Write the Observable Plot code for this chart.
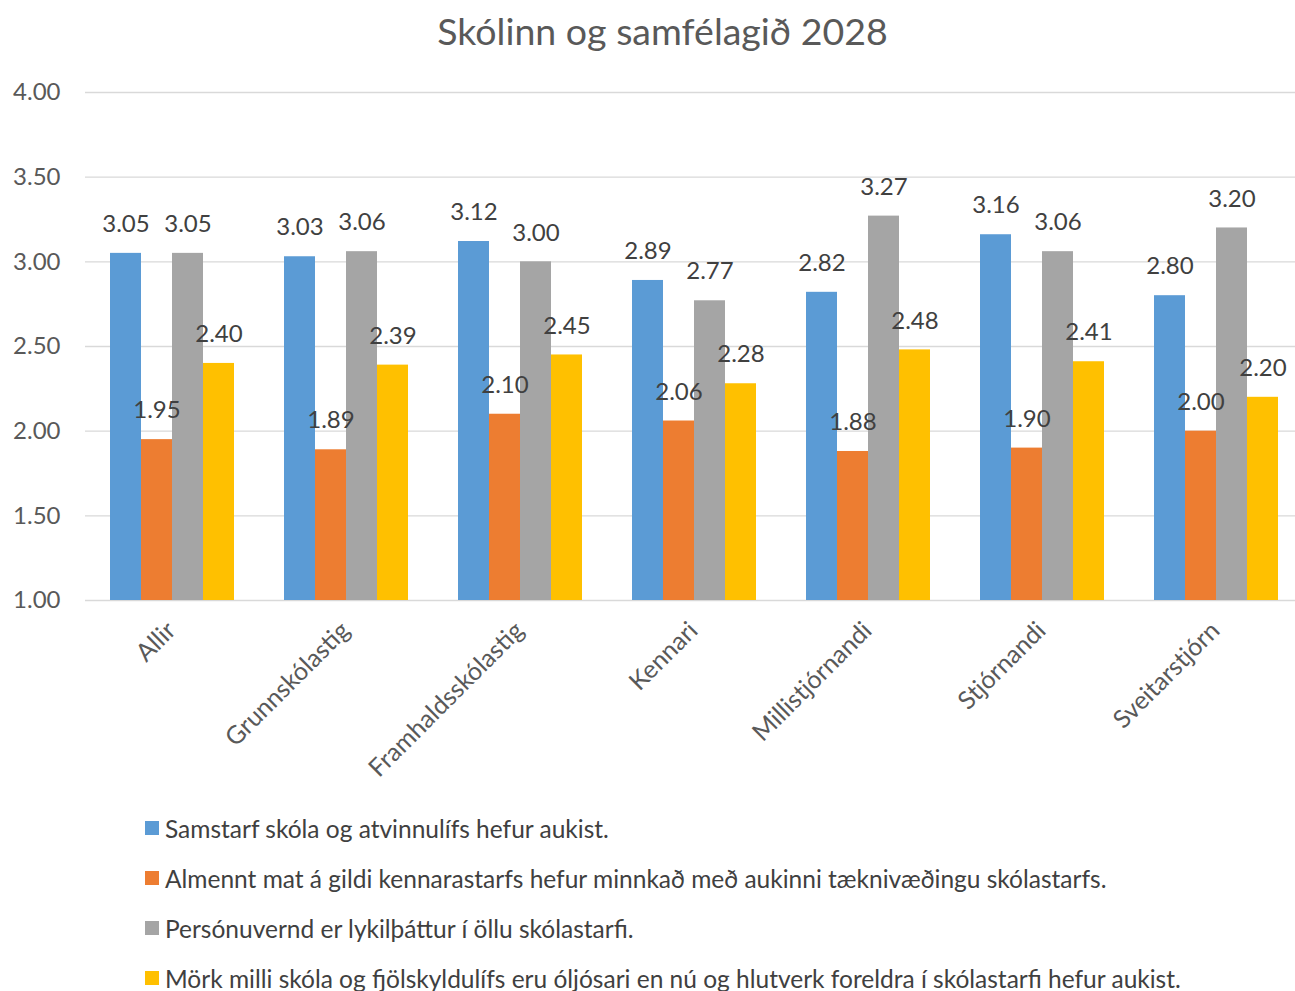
<!DOCTYPE html>
<html><head><meta charset="utf-8">
<script src="https://cdn.jsdelivr.net/npm/d3@7"></script>
<script src="https://cdn.jsdelivr.net/npm/@observablehq/plot@0.6"></script>
<style>
html,body{margin:0;background:#fff;font-family:Lato,"Open Sans",sans-serif;overflow:hidden;}
#title{width:1295px;height:62px;line-height:62px;text-align:center;font-size:37.5px;color:#595959;padding-left:30px;box-sizing:border-box;}
#chart svg{max-width:none !important;}
#legend{position:absolute;left:145px;top:803px;}
.row{height:50px;display:flex;align-items:center;font-size:24.5px;color:#404040;white-space:nowrap;}
.sw{width:14px;height:14px;margin-right:6px;}
</style></head><body>
<div id="title">Skólinn og samfélagið 2028</div>
<div id="chart"></div>
<div id="legend"></div>
<script>
const categories = ["Allir","Grunnskólastig","Framhaldsskólastig","Kennari","Millistjórnandi","Stjórnandi","Sveitarstjórn"];
const seriesNames = [
  "Samstarf skóla og atvinnulífs hefur aukist.",
  "Almennt mat á gildi kennarastarfs hefur minnkað með aukinni tæknivæðingu skólastarfs.",
  "Persónuvernd er lykilþáttur í öllu skólastarfi.",
  "Mörk milli skóla og fjölskyldulífs eru óljósari en nú og hlutverk foreldra í skólastarfi hefur aukist."
];
const s1 = [3.05,3.03,3.12,2.89,2.82,3.16,2.80];
const s2 = [1.95,1.89,2.10,2.06,1.88,1.90,2.00];
const s3 = [3.05,3.06,3.00,2.77,3.27,3.06,3.20];
const s4 = [2.40,2.39,2.45,2.28,2.48,2.41,2.20];
const colors = ["#5B9BD5","#ED7D31","#A5A5A5","#FFC000"];
const yTicks = [1,1.5,2,2.5,3,3.5,4];

const allSeries = [s1,s2,s3,s4];
const data = [];
categories.forEach((c,i)=>allSeries.forEach((s,j)=>data.push({cat:c, series:seriesNames[j], value:s[i]})));

const chart = Plot.plot({
  width:1304, height:740,
  marginLeft:84, marginRight:0, marginTop:30, marginBottom:202,
  style:{fontFamily:"Lato, 'Open Sans', sans-serif", color:"#595959", background:"#fff", overflow:"visible", maxWidth:"none"},
  fx:{domain:categories, padding:0, label:null},
  x:{domain:seriesNames, paddingInner:0, paddingOuter:0.765, axis:null},
  y:{domain:[1,4], label:null},
  color:{domain:seriesNames, range:colors},
  marks:[
    Plot.gridY(yTicks,{stroke:"#d9d9d9", strokeOpacity:1, strokeWidth:1.3}),
    Plot.axisY(yTicks,{tickFormat:d3.format(".2f"), tickSize:0, tickPadding:0, fontSize:24, fill:"#595959", dx:-25, label:null}),
    Plot.barY(data,{fx:"cat", x:"series", y1:1, y2:"value", fill:"series"}),
    Plot.text(data,{fx:"cat", x:"series", y:"value", text:d=>d.value.toFixed(2), dy:-29, fontSize:24, fill:"#404040"}),
    Plot.axisFx({anchor:"bottom", tickRotate:-45, tickSize:0, tickPadding:26, fontSize:25, fill:"#595959", label:null, dx:-1, textOverflow:null, lineWidth:Infinity})
  ]
});
document.getElementById("chart").appendChild(chart);

const lg = document.getElementById("legend");
seriesNames.forEach((n,i)=>{
  const r = document.createElement("div"); r.className="row";
  const sw = document.createElement("div"); sw.className="sw"; sw.style.background=colors[i];
  const t = document.createElement("span"); t.textContent=n;
  r.appendChild(sw); r.appendChild(t); lg.appendChild(r);
});
</script>
</body></html>
